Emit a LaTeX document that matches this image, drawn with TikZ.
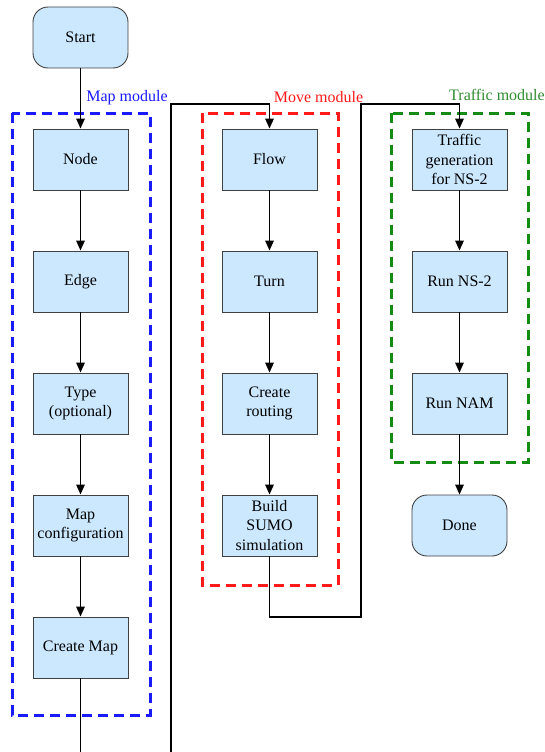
\documentclass[tikz,border=0pt]{standalone}
\usepackage{fontspec}
\setmainfont{Liberation Serif}
\usetikzlibrary{arrows.meta}
\definecolor{boxfill}{HTML}{CCE8FF}
\definecolor{boxline}{HTML}{404040}
\definecolor{mapblue}{HTML}{1A1AFF}
\definecolor{movered}{HTML}{FF1A1A}
\definecolor{trafgreen}{HTML}{148C14}
\definecolor{trafgreentext}{HTML}{2E8B2E}
\tikzset{
  stepbox/.style={draw=boxline, line width=0.9pt, fill=boxfill, minimum width=95pt, minimum height=61pt, align=center, inner sep=1pt, font=\fontsize{16}{19.5}\selectfont},
  termbox/.style={stepbox, rounded corners=15pt},
  conn/.style={draw=black, line width=1.5pt, -{Triangle[length=10pt,width=8.5pt]}},
  plainconn/.style={draw=black, line width=1.5pt},
  modframe/.style={line width=3pt, dash pattern=on 10pt off 6pt},
  modlabel/.style={font=\fontsize{16}{19}\selectfont, inner sep=0pt}
}
\begin{document}
\begin{tikzpicture}[x=1pt,y=-1pt]
\useasboundingbox (0,0) rectangle (545,752);
% module frames
\draw[modframe, draw=mapblue] (12,113) rectangle (150,715);
\draw[modframe, draw=movered] (202,113) rectangle (338,585);
\draw[modframe, draw=trafgreen] (391,113) rectangle (528,462);
\node[modlabel, text=mapblue] (lmap) at (127,98) {Map module};
\node[modlabel, text=movered] (lmove) at (318.5,97) {Move module};
\node[modlabel, text=trafgreentext] (ltraf) at (497,95) {Traffic module};
% nodes
\node[termbox] (start) at (80.5,37.5) {Start};
\node[stepbox] (node) at (80.5,159.5) {Node};
\node[stepbox] (edge) at (80.5,281.5) {Edge};
\node[stepbox] (type) at (80.5,403.5) {Type\\(optional)};
\node[stepbox] (mapconf) at (80.5,525.5) {Map\\configuration};
\node[stepbox] (createmap) at (80.5,647.5) {Create Map};
\node[stepbox] (flow) at (269.5,159.5) {Flow};
\node[stepbox] (turn) at (269.5,281.5) {Turn};
\node[stepbox] (routing) at (269.5,403.5) {Create\\routing};
\node[stepbox] (sumo) at (269.5,525.5) {Build\\SUMO\\simulation};
\node[stepbox] (trafgen) at (459.5,159.5) {Traffic\\generation\\for NS-2};
\node[stepbox] (runns) at (459.5,281.5) {Run NS-2};
\node[stepbox] (runnam) at (459.5,403.5) {Run NAM};
\node[termbox] (done) at (459.5,525.5) {Done};
% coordinates
\coordinate (mapout) at (80.5,752);
\coordinate (movein) at (171,752);
\coordinate (c1) at (171,104);
\coordinate (c2) at (269.5,104);
\coordinate (c3) at (269.5,617);
\coordinate (c4) at (361,617);
\coordinate (c5) at (361,104);
\coordinate (c6) at (459.5,104);
% connectors
\draw[conn] (start) -- (node);
\draw[conn] (node) -- (edge);
\draw[conn] (edge) -- (type);
\draw[conn] (type) -- (mapconf);
\draw[conn] (mapconf) -- (createmap);
\draw[plainconn] (createmap) -- (mapout);
\draw[conn] (movein) -- (c1) -- (c2) -- (flow);
\draw[conn] (flow) -- (turn);
\draw[conn] (turn) -- (routing);
\draw[conn] (routing) -- (sumo);
\draw[conn] (sumo) -- (c3) -- (c4) -- (c5) -- (c6) -- (trafgen);
\draw[conn] (trafgen) -- (runns);
\draw[conn] (runns) -- (runnam);
\draw[conn] (runnam) -- (done);
\end{tikzpicture}
\end{document}
